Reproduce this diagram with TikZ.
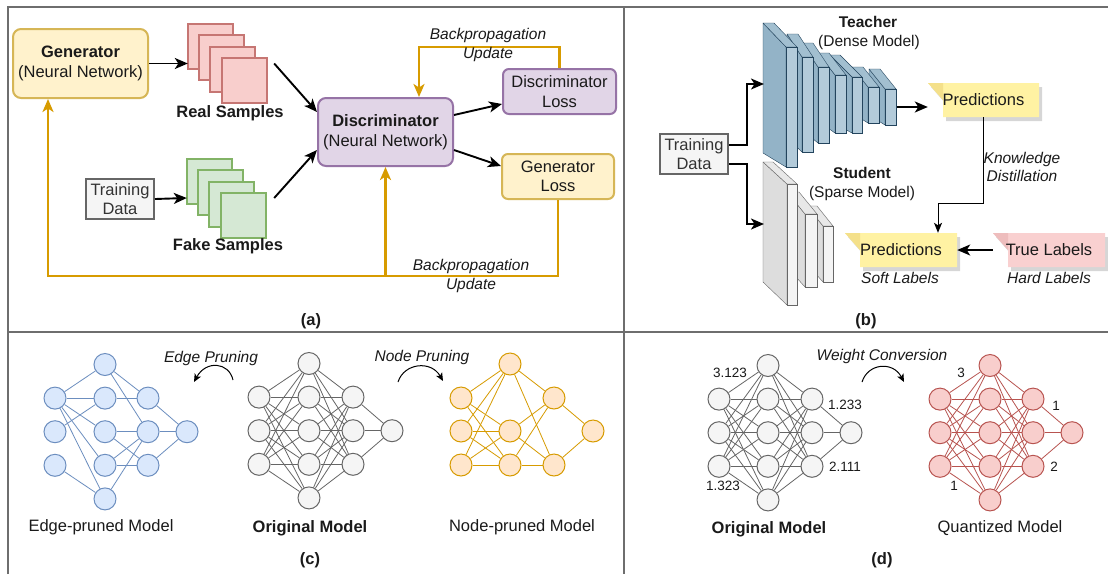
\documentclass[tikz,border=0pt]{standalone}
\usepackage{fontspec}
\setmainfont{Liberation Sans}
\usetikzlibrary{arrows.meta,calc}

\definecolor{framegray}{HTML}{6E6E6E}
\definecolor{inkc}{HTML}{1A1A1A}
\definecolor{genfill}{HTML}{FFF2CC}
\definecolor{gendraw}{HTML}{D6B656}
\definecolor{disfill}{HTML}{E1D5E7}
\definecolor{disdraw}{HTML}{9673A6}
\definecolor{redfill}{HTML}{F8CECC}
\definecolor{reddraw}{HTML}{B85450}
\definecolor{grnfill}{HTML}{D5E8D4}
\definecolor{grndraw}{HTML}{82B366}
\definecolor{grayfill}{HTML}{F5F5F5}
\definecolor{graydraw}{HTML}{666666}
\definecolor{graytext}{HTML}{333333}
\definecolor{backprop}{HTML}{D79B00}
\definecolor{bluefill}{HTML}{DAE8FC}
\definecolor{bluedraw}{HTML}{6C8EBF}
\definecolor{orgfill}{HTML}{FFE6CC}
\definecolor{tslabfront}{HTML}{B3CBDA}
\definecolor{tslabside}{HTML}{93B3C7}
\definecolor{tslabtop}{HTML}{A2BFD0}
\definecolor{tslabdraw}{HTML}{23445D}
\definecolor{sslabfront}{HTML}{F4F4F4}
\definecolor{sslabside}{HTML}{DDDDDD}
\definecolor{sslabtop}{HTML}{E8E8E8}
\definecolor{sslabdraw}{HTML}{666666}
\definecolor{notefill}{HTML}{FFF2A3}
\definecolor{notefold}{HTML}{F4E08A}
\definecolor{pinkfill}{HTML}{F9D0D0}
\definecolor{pinkfold}{HTML}{EEBDBD}

% one layer slab of a 3D network block:
% front x1, front x2, front top y, front bottom y, depth dx, top dy, bottom dy, palette
\newcommand\slab[8]{%
  \filldraw[fill=#8side, draw=#8draw, line join=round]
    (#1,#3) -- (#1-#5,#3-#6) -- (#1-#5,#4-#7) -- (#1,#4) -- cycle;
  \filldraw[fill=#8top, draw=#8draw, line join=round]
    (#1,#3) -- (#1-#5,#3-#6) -- (#2-#5,#3-#6) -- (#2,#3) -- cycle;
  \filldraw[fill=#8front, draw=#8draw] (#1,#3) rectangle (#2,#4);
}

% sticky-note card with a folded top-left tip: x1, y1, x2, y2, fill, fold
\newcommand\notecard[6]{%
  \fill[black, opacity=0.16]
    (#1+3,#2+4) -- (#3+3,#2+4) -- (#3+3,#4+4) -- (#1+18,#4+4) -- (#1+18,#2+21) -- cycle;
  \fill[#5] (#1,#2) -- (#3,#2) -- (#3,#4) -- (#1+15,#4) -- (#1+15,#2+17) -- cycle;
  \fill[#6] (#1,#2) -- (#1+15,#2) -- (#1+15,#2+17) -- cycle;
}

% 3-5-3-1 layer network nodes: prefix, four layer x positions, top y, node style
\newcommand\netnodes[7]{%
  \foreach \i in {1,2,3} \node[#7] (#1a\i) at (#2,{#6+\i*33.6}) {};
  \foreach \i in {1,...,5} \node[#7] (#1b\i) at (#3,{#6+(\i-1)*33.6}) {};
  \foreach \i in {1,2,3} \node[#7] (#1c\i) at (#4,{#6+\i*33.6}) {};
  \node[#7] (#1d) at (#5,{#6+2*33.6}) {};
}
% all edges of a 3-5-3-1 network: prefix, edge style
\newcommand\fullnet[2]{%
  \foreach \i in {1,2,3} \foreach \j in {1,...,5} \draw[#2] (#1a\i) -- (#1b\j);
  \foreach \j in {1,...,5} \foreach \k in {1,2,3} \draw[#2] (#1b\j) -- (#1c\k);
  \foreach \k in {1,2,3} \draw[#2] (#1c\k) -- (#1d);
}

\begin{document}
\begin{tikzpicture}[x=1pt,y=-1pt,
  txt/.style={font=\fontsize{16.5}{19.5}\selectfont, align=center, text=inkc},
  bld/.style={font=\fontsize{16.5}{19.5}\selectfont\bfseries, align=center, text=inkc},
  lbl/.style={font=\fontsize{15.5}{18.5}\selectfont\itshape, align=center, text=inkc},
  num/.style={font=\fontsize{13.5}{16}\selectfont, text=inkc, inner sep=0},
  rbox/.style={txt, line width=2pt, rounded corners=8pt, inner sep=0},
  tdbox/.style={txt, draw=graydraw, fill=grayfill, line width=2pt, text=graytext,
    minimum width=68pt, minimum height=40pt, inner sep=0},
  arr/.style={-{Stealth[length=13pt,width=11pt,inset=3.5pt]}, line width=1.9pt, draw=black},
  thinarr/.style={-{Stealth[length=10pt,width=8pt,inset=2.5pt]}, line width=1pt, draw=black},
  bparr/.style={-{Stealth[length=13pt,width=11pt,inset=3.5pt]}, line width=2.4pt, draw=backprop},
  curv/.style={-{Stealth[length=8pt,width=7pt,inset=2pt]}, line width=1pt, draw=black},
  nn/.style={circle, minimum size=22pt, inner sep=0, line width=1pt},
  ngray/.style={nn, fill=grayfill, draw=graydraw},
  nblue/.style={nn, fill=bluefill, draw=bluedraw},
  norg/.style={nn, fill=orgfill, draw=backprop},
  nred/.style={nn, fill=redfill, draw=reddraw},
  egray/.style={draw=graydraw, line width=0.8pt},
  eblue/.style={draw=bluedraw, line width=0.8pt},
  eorg/.style={draw=backprop, line width=0.8pt},
  ered/.style={draw=reddraw, line width=0.8pt},
  stack/.style={inner sep=0, minimum width=79pt, minimum height=79pt}
]
\useasboundingbox (0,0) rectangle (1108,574);
\fill[white] (0,0) rectangle (1108,574);

% panel frame
\draw[framegray, line width=2pt] (8,574) -- (8,7) -- (1108,7);
\draw[framegray, line width=2pt] (624,7) -- (624,574);
\draw[framegray, line width=2pt] (8,332) -- (1108,332);

% ---------------- (a) GAN ----------------
\node[rbox, fill=genfill, draw=gendraw, minimum width=135pt, minimum height=69pt]
  (gen) at (80.5,63.5) {\textbf{Generator}\\(Neural Network)};
\node[tdbox] (tda) at (120,199) {Training\\Data};

\foreach \x/\y in {188/24,199/35,210/47,222/58}
  \filldraw[fill=redfill, draw=reddraw!80, line width=1.2pt] (\x,\y) rectangle ++(45,45);
\node[stack] (real) at (227.5,63.5) {};
\node[bld] at (230,113) {Real Samples};

\foreach \x/\y in {187/159,198/170,209/182,221/193}
  \filldraw[fill=grnfill, draw=grndraw, line width=1.2pt] (\x,\y) rectangle ++(45,45);
\node[stack] (fake) at (226.5,198) {};
\node[bld] at (228,246) {Fake Samples};

\node[rbox, fill=disfill, draw=disdraw, minimum width=135pt, minimum height=68pt]
  (disc) at (385.5,132) {\textbf{Discriminator}\\(Neural Network)};
\node[rbox, rounded corners=6pt, fill=disfill, draw=disdraw, minimum width=113pt, minimum height=45pt]
  (dloss) at (559.5,91.5) {Discriminator\\Loss};
\node[rbox, rounded corners=6pt, fill=genfill, draw=gendraw, minimum width=112pt, minimum height=45pt]
  (gloss) at (558,176.5) {Generator\\Loss};

\draw[arr] (gen.east) -- (real.west);
\draw[arr] (tda.east) -- (fake.west);
\draw[arr] ([xshift=7pt]real.east) -- ([yshift=20pt]disc.west);
\draw[arr] ([xshift=8pt]fake.east) -- ([yshift=-18pt]disc.west);
\draw[arr] ([yshift=17pt]disc.east) -- ([yshift=-12.5pt]dloss.west);
\draw[arr] ([yshift=-18pt]disc.east) -- ([yshift=10.5pt]gloss.west);

\coordinate (bptop) at (419,47);
\draw[bparr] (dloss.north) |- (bptop) -- (bptop |- disc.north);
\node[lbl] at (488,45) {Backpropagation\\Update};

\coordinate (bpbot) at (48,276);
\draw[bparr] (gloss.south) |- (bpbot) -- (bpbot |- gen.south);
\draw[bparr] (disc.south |- bpbot) -- (disc.south);
\node[lbl] at (471,276) {Backpropagation\\Update};

\node[bld] at (311,321) {(a)};

% ---------------- (b) knowledge distillation ----------------
\node[tdbox] (tdb) at (694,154) {Training\\Data};

% teacher block, back slabs first
\slab{885}{896}{89}{125}{16}{20}{10}{tslab}
\slab{868}{879}{87}{123}{16}{20}{10}{tslab}
\slab{852}{862}{77}{133}{22}{22}{12}{tslab}
\slab{835}{846}{75}{133}{17}{22}{12}{tslab}
\slab{818}{829}{67}{143}{16}{24}{13}{tslab}
\slab{802}{813}{57}{152}{15}{23}{14}{tslab}
\slab{786}{797}{47}{167}{23}{24}{14}{tslab}

% student block
\slab{823}{833}{226}{282}{16}{20}{18}{sslab}
\slab{805}{817}{214}{287}{18}{22}{20}{sslab}
\slab{787}{797}{184}{305}{24}{22}{23}{sslab}

\node[font=\fontsize{15.5}{18.5}\selectfont\bfseries, text=inkc] at (868,22) {Teacher};
\node[font=\fontsize{15.5}{18.5}\selectfont, text=inkc] at (869,42) {(Dense Model)};
\node[font=\fontsize{15.5}{18.5}\selectfont\bfseries, text=inkc] at (862,173) {Student};
\node[font=\fontsize{15.5}{18.5}\selectfont, text=inkc] at (862,193) {(Sparse Model)};

\coordinate (tin) at (764,84);
\coordinate (tbend) at (747,84);
\coordinate (sin) at (764,224);
\coordinate (sbend) at (747,224);
\draw[arr] ([yshift=9pt]tdb.east) -| (tbend) -- (tin);
\draw[arr] ([yshift=-10pt]tdb.east) -| (sbend) -- (sin);

\notecard{928}{83}{1039}{117}{notefill}{notefold}
\node[txt, minimum width=111pt, minimum height=34pt, inner sep=0] (predT) at (983.5,100) {Predictions};
\notecard{845}{233}{957}{267}{notefill}{notefold}
\node[txt, minimum width=112pt, minimum height=34pt, inner sep=0] (predS) at (901,250) {Predictions};
\notecard{993}{233}{1105}{267}{pinkfill}{pinkfold}
\node[txt, minimum width=112pt, minimum height=34pt, inner sep=0] (trueL) at (1049,250) {True Labels};

\coordinate (tout) at (897,107);
\draw[arr] (tout) -- (tout -| predT.west);

\coordinate (kd) at (938,203);
\draw[thinarr] (predT.south) |- (kd) -- (kd |- predS.north);
\node[lbl] at (1022,167) {Knowledge\\Distillation};

\draw[arr] (trueL.west) -- (predS.east);
\node[lbl] at (900,278) {Soft Labels};
\node[lbl] at (1049,278) {Hard Labels};

\node[bld] at (866,321) {(b)};

% ---------------- (c) pruning ----------------
% original model
\netnodes{o}{259}{309}{353}{392}{363.5}{ngray}
\fullnet{o}{egray}
\node[bld] at (310,528) {Original Model};

% edge-pruned model
\netnodes{e}{55}{105}{148}{187}{364.5}{nblue}
\foreach \u/\v in {a1/b1,a1/b2,a1/b3,a1/b4,a1/b5,a2/b2,a3/b5,
                   b1/c1,b1/c2,b2/c1,b3/c2,b3/c3,b4/c2,b4/c3,b5/c2}
  \draw[eblue] (e\u) -- (e\v);
\foreach \k in {1,2,3} \draw[eblue] (ec\k) -- (ed);
\node[txt] at (101,527) {Edge-pruned Model};

% node-pruned model
\foreach \n/\x/\y in {a1/461/398,a2/461/431,a3/461/465,
                      b1/510/364,b2/510/431,b3/510/465,
                      c1/554/398,c2/554/465,d/593/431}
  \node[norg] (p\n) at (\x,\y) {};
\foreach \i in {1,2,3} \foreach \j in {1,2,3} \draw[eorg] (pa\i) -- (pb\j);
\foreach \j in {1,2,3} \foreach \k in {1,2} \draw[eorg] (pb\j) -- (pc\k);
\foreach \k in {1,2} \draw[eorg] (pc\k) -- (pd);
\node[txt] at (522,527) {Node-pruned Model};

% transformation arrows
\coordinate (epS) at (233,380);
\coordinate (epE) at (194,382);
\draw[curv] (epS) .. controls (229,362) and (206,360) .. (epE);
\node[lbl] at (211,358) {Edge Pruning};

\coordinate (npS) at (398,382);
\coordinate (npE) at (443,381);
\draw[curv] (npS) .. controls (404,363) and (431,360) .. (npE);
\node[lbl] at (422,357) {Node Pruning};

\node[bld] at (310,560) {(c)};

% ---------------- (d) quantization ----------------
\netnodes{w}{719}{768}{812}{851}{365.5}{ngray}
\fullnet{w}{egray}
\node[num] at (730,373) {3.123};
\node[num] at (723,486) {1.323};
\node[num] at (845,405) {1.233};
\node[num] at (845,467) {2.111};
\node[bld] at (769,529) {Original Model};

\netnodes{q}{940}{990}{1033}{1072}{365.5}{nred}
\fullnet{q}{ered}
\node[num] at (961,373) {3};
\node[num] at (954,486) {1};
\node[num] at (1056,406) {1};
\node[num] at (1054,467) {2};
\node[txt] at (1000,528) {Quantized Model};

\coordinate (wcS) at (862,382);
\coordinate (wcE) at (904,382);
\draw[curv] (wcS) .. controls (868,363) and (893,361) .. (wcE);
\node[lbl] at (882,356) {Weight Conversion};

\node[bld] at (882,560) {(d)};
\end{tikzpicture}
\end{document}
